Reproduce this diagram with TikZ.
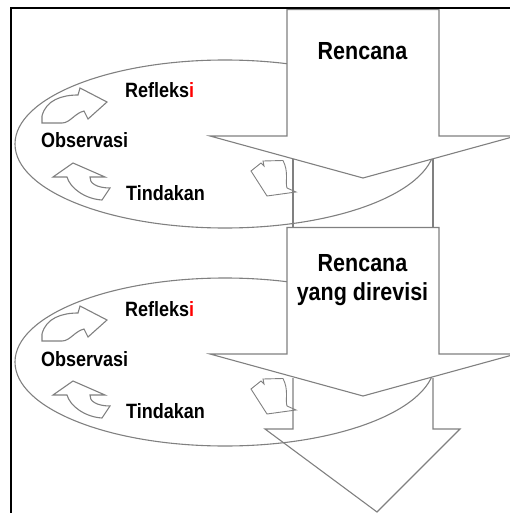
\documentclass[tikz,border=0pt]{standalone}
\usepackage{fontspec}
\setmainfont{Liberation Sans}
\begin{document}
\begin{tikzpicture}[x=1pt,y=-1pt,
    ln/.style={draw=black!50, line width=1.1pt, line join=miter},
    lbl/.style={font=\bfseries\fontsize{18}{20}\selectfont, inner sep=0pt, yscale=1.15},
    big/.style={font=\bfseries\fontsize{21.5}{24.5}\selectfont, inner sep=0pt, yscale=1.15, align=center}]
    \useasboundingbox (0,0) rectangle (510,513);
    \clip (0,0) rectangle (510,513);
    % connecting shafts
    \draw[ln] (293,158) rectangle (433,228);
    \draw[ln] (293,378) -- (293,429) -- (265,429) -- (377,512) -- (460,429) -- (433,429) -- (433,378);

\foreach \dy in {0,218} {
    \draw[ln] (225,144+\dy) ellipse (210pt and 84pt);
    \draw[ln] (42,123+\dy) -- (42,116+\dy) .. controls (46,100+\dy) and (62,95+\dy) .. (78,95+\dy)
        -- (80,88+\dy) -- (107,102+\dy) -- (88,119+\dy) -- (84,111+\dy)
        .. controls (75,113+\dy) and (70,123+\dy) .. (62,123+\dy) -- cycle;
    \draw[ln] (73,163+\dy) -- (105,177+\dy) -- (90,177+\dy)
        .. controls (89,183+\dy) and (97,188+\dy) .. (110,188+\dy) -- (102,200+\dy)
        .. controls (85,199+\dy) and (70,188+\dy) .. (67,177+\dy) -- (53,177+\dy) -- cycle;
    \draw[ln, line width=0.9pt] (251,171+\dy) -- (261,163+\dy) -- (264,166+\dy) -- (263,161+\dy) -- (283,160.5+\dy)
        .. controls (289,172+\dy) and (285,182+\dy) .. (287,188+\dy) -- (296,192+\dy) -- (267,196+\dy) -- cycle;
    \node[lbl, anchor=base west] (refl) at (125,98+\dy) {Refleks\textcolor{red}{i}};
    \node[lbl, anchor=base west] (obs) at (41,148+\dy) {Observasi};
    \node[lbl, anchor=base west] (tind) at (126,200+\dy) {Tindakan};
}

    % main arrows
    \draw[ln, fill=white] (287,9.5) -- (439,9.5) -- (439,136) -- (516,136) -- (363,178) -- (210,136) -- (287,136) -- cycle;
    \draw[ln, fill=white] (287,227.5) -- (439,227.5) -- (439,354) -- (516,354) -- (363,396) -- (210,354) -- (287,354) -- cycle;
    \node[big, anchor=base] (plan) at (362.5,60) {Rencana};
    \node[big, anchor=base] (revplan) at (362.5,300) {Rencana\\yang direvisi};

    \draw[line width=2pt] (11,513) -- (11,8.5) -- (510,8.5);
\end{tikzpicture}
\end{document}
